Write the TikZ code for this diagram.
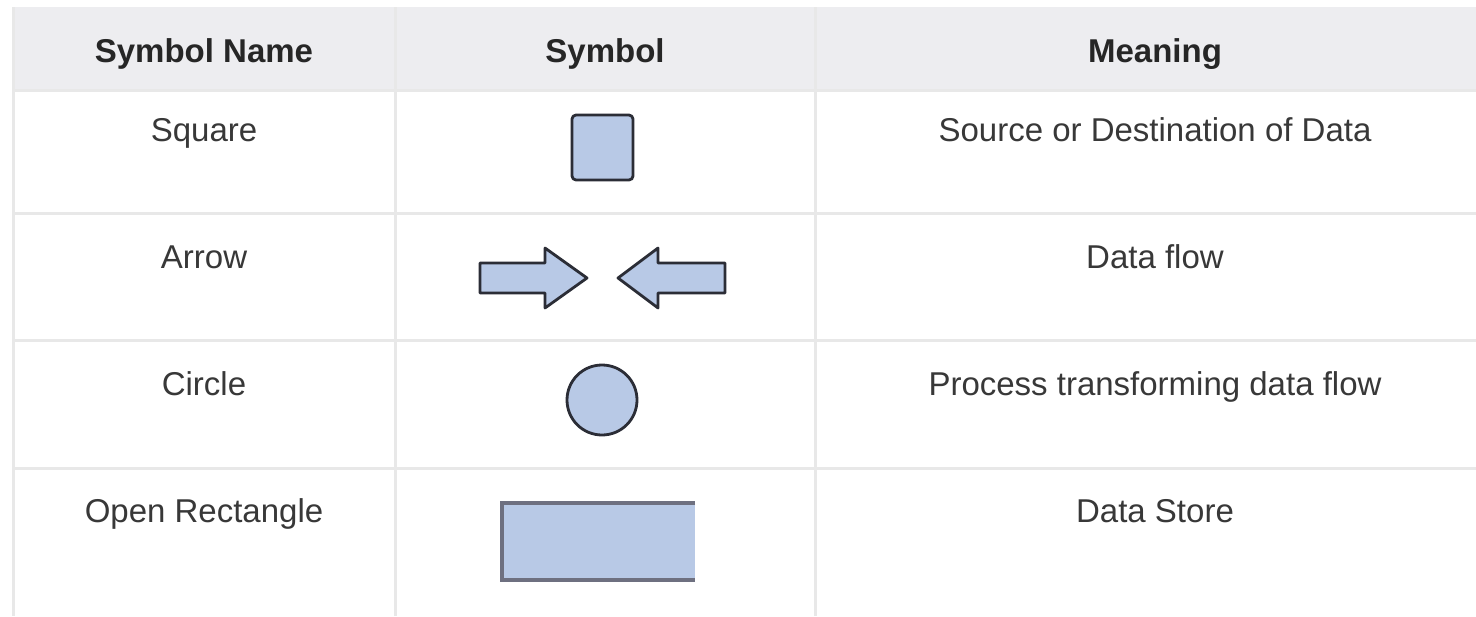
\documentclass[tikz,border=0pt]{standalone}
\usepackage{fontspec}
\setmainfont{Liberation Sans}
\begin{document}
\begin{tikzpicture}[x=0.5pt,y=-0.5pt,
  headtext/.style={font=\fontsize{16.5pt}{18pt}\selectfont\bfseries, text=black!85, anchor=base, inner sep=0pt},
  celltext/.style={font=\fontsize{16.5pt}{18pt}\selectfont, text=black!78, anchor=base, inner sep=0pt},
  gridline/.style={draw=black!9, line width=1.5pt},
  symfill/.style={fill=symblue, draw=symedge, line width=1.4pt, line join=round},
]
\definecolor{symblue}{HTML}{B8C9E6}
\definecolor{symedge}{HTML}{2B2D36}
\definecolor{headbg}{HTML}{EDEDF0}
\definecolor{storeedge}{HTML}{6E7080}
\useasboundingbox (0,0) rectangle (1476,616);
\fill[white] (0,0) rectangle (1476,616);

% header band
\fill[headbg] (13,7) rectangle (1476,90);

% grid lines
\draw[gridline] (13,7) -- (13,616);
\draw[gridline] (395,7) -- (395,616);
\draw[gridline] (815,7) -- (815,616);
\draw[gridline] (13,90) -- (1476,90);
\draw[gridline] (13,213) -- (1476,213);
\draw[gridline] (13,340) -- (1476,340);
\draw[gridline] (13,468) -- (1476,468);

% header
\node[headtext] (hname) at (204,62) {Symbol Name};
\node[headtext] (hsym) at (605,62) {Symbol};
\node[headtext] (hmean) at (1155,62) {Meaning};

% first column
\node[celltext] (nsquare) at (204,141) {Square};
\node[celltext] (narrow) at (204,268) {Arrow};
\node[celltext] (ncircle) at (204,395) {Circle};
\node[celltext] (nstore) at (204,522) {Open Rectangle};

% third column
\node[celltext] (msquare) at (1155,141) {Source or Destination of Data};
\node[celltext] (marrow) at (1155,268) {Data flow};
\node[celltext] (mcircle) at (1155,395) {Process transforming data flow};
\node[celltext] (mstore) at (1155,522) {Data Store};

% symbols
\draw[symfill, rounded corners=2pt] (572,115) rectangle (633,180);
\draw[symfill] (480,263) -- (545,263) -- (545,248) -- (587,278) -- (545,308) -- (545,293) -- (480,293) -- cycle;
\draw[symfill] (725,263) -- (658,263) -- (658,248) -- (618,278) -- (658,308) -- (658,293) -- (725,293) -- cycle;
\node[symfill, circle, minimum size=35pt, inner sep=0pt] (proc) at (602,400) {};
\fill[symblue] (502,503) rectangle (695,580);
\draw[storeedge, line width=1.6pt] (695,503) -- (502,503) -- (502,580) -- (695,580);
\end{tikzpicture}
\end{document}
